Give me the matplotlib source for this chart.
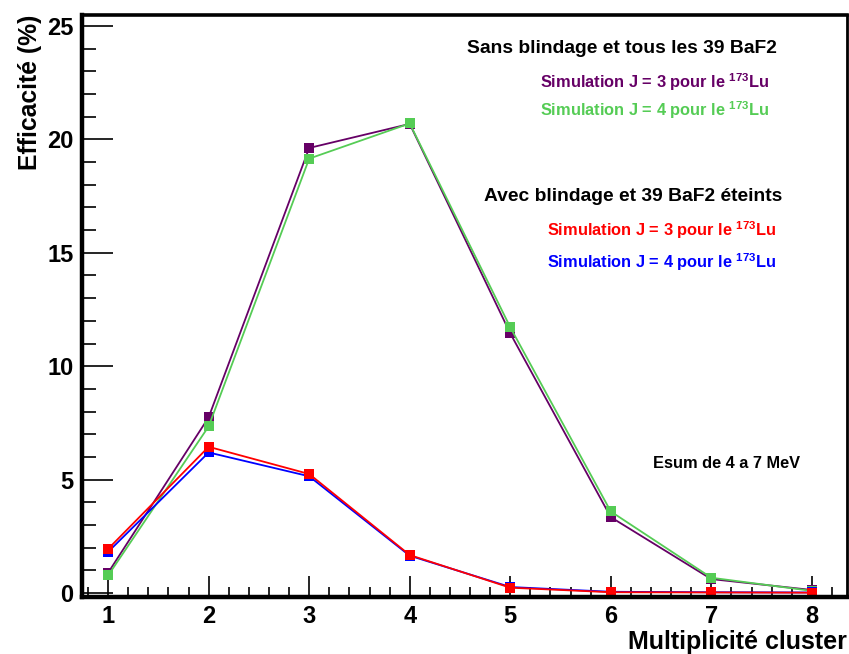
import numpy as np
import matplotlib
matplotlib.use("Agg")
import matplotlib.pyplot as plt
from matplotlib.ticker import MultipleLocator

# ========= DONNÉES ==========
multiplicite = [1, 2, 3, 4, 5, 6, 7, 8]
sans_j3 = [0.9, 7.75, 19.62, 20.68, 11.45, 3.35, 0.62, 0.14]
sans_j4 = [0.78, 7.35, 19.15, 20.7, 11.72, 3.6, 0.68, 0.1]
avec_j3 = [1.95, 6.45, 5.25, 1.68, 0.24, 0.04, 0.03, 0.02]
avec_j4 = [1.82, 6.2, 5.15, 1.65, 0.27, 0.06, 0.04, 0.03]
# ============================

VIOLET = "#660066"
VERT = "#55cc55"
ROUGE = "#ff0000"
BLEU = "#0000ff"

plt.rcParams['font.family'] = ['Liberation Sans', 'DejaVu Sans']
plt.rcParams['font.weight'] = 'bold'
plt.rcParams['mathtext.default'] = 'regular'

fig = plt.figure(figsize=(8.49, 6.54), dpi=100)
# boite des axes en pixels : gauche 82, droite 847, haut 15, bas 597
ax = fig.add_axes([82 / 849, 1 - 597 / 654, 765 / 849, 582 / 654])

for valeurs, couleur in [(sans_j3, VIOLET), (sans_j4, VERT), (avec_j4, BLEU), (avec_j3, ROUGE)]:
    ax.plot(multiplicite, valeurs, color=couleur, lw=1.3, marker='s', ms=7.5,
            markeredgewidth=0)

ax.set_xlim(0.74, 8.35)
ax.set_ylim(-0.17, 25.48)

ax.xaxis.set_major_locator(MultipleLocator(1))
ax.xaxis.set_minor_locator(MultipleLocator(0.2))
ax.yaxis.set_major_locator(MultipleLocator(5))
ax.yaxis.set_minor_locator(MultipleLocator(1))
ax.tick_params(axis='both', which='both', direction='in', top=False, right=False,
               labelsize=17, colors='black', width=1.2)
ax.tick_params(axis='x', which='major', length=15, pad=6)
ax.tick_params(axis='x', which='minor', length=7)
ax.tick_params(axis='y', which='major', length=22, pad=6)
ax.tick_params(axis='y', which='minor', length=10)
for lab in ax.get_xticklabels() + ax.get_yticklabels():
    lab.set_fontweight('bold')

ax.spines['left'].set_linewidth(3.2)
ax.spines['bottom'].set_linewidth(3.2)
ax.spines['top'].set_linewidth(2.6)
ax.spines['right'].set_linewidth(2.0)

ax.set_ylabel("Efficacité (%)", fontsize=17.8, fontweight='bold')
ax.yaxis.set_label_coords(-0.068, 1.0)
ax.yaxis.label.set_horizontalalignment('right')
ax.yaxis.label.set_verticalalignment('center')
ax.set_xlabel("Multiplicité cluster", fontsize=18, fontweight='bold')
ax.xaxis.set_label_coords(1.0, -0.0893)
ax.xaxis.label.set_horizontalalignment('right')
ax.xaxis.label.set_verticalalignment('baseline')

ax.text(0.706, 0.943, "Sans blindage et tous les 39 BaF2", transform=ax.transAxes,
        ha='center', va='center', fontsize=13.9, fontweight='bold', color='black')
ax.text(0.749, 0.885, r"Simulation J = 3 pour le $^{173}$Lu", transform=ax.transAxes,
        ha='center', va='center', fontsize=11.8, fontweight='bold', color=VIOLET)
ax.text(0.749, 0.837, r"Simulation J = 4 pour le $^{173}$Lu", transform=ax.transAxes,
        ha='center', va='center', fontsize=11.8, fontweight='bold', color=VERT)

ax.text(0.720, 0.689, "Avec blindage et 39 BaF2 éteints", transform=ax.transAxes,
        ha='center', va='center', fontsize=13.9, fontweight='bold', color='black')
ax.text(0.758, 0.631, r"Simulation J = 3 pour le $^{173}$Lu", transform=ax.transAxes,
        ha='center', va='center', fontsize=11.8, fontweight='bold', color=ROUGE)
ax.text(0.758, 0.576, r"Simulation J = 4 pour le $^{173}$Lu", transform=ax.transAxes,
        ha='center', va='center', fontsize=11.8, fontweight='bold', color=BLEU)

ax.text(0.842, 0.230, "Esum de 4 a 7 MeV", transform=ax.transAxes,
        ha='center', va='center', fontsize=11.8, fontweight='bold', color='black')

fig.savefig("out.png", dpi=100)
